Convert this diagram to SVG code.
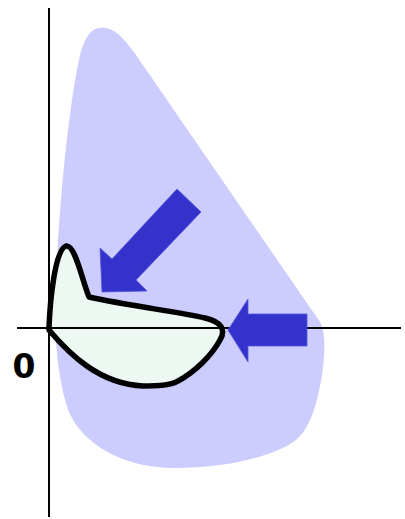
<svg xmlns="http://www.w3.org/2000/svg" width="405" height="519" viewBox="0 0 405 519">
<style>
.region{fill:#ccccff;stroke:none}
.set{fill:#eef8f3;stroke:#000;stroke-width:5.5;stroke-linejoin:round}
.axis{stroke:#000;stroke-width:2;fill:none}
.arrow{fill:#3333cc;stroke:#5555dd;stroke-width:0.8}
.lbl{font-family:"DejaVu Sans",sans-serif;font-weight:bold;font-size:33px;fill:#000}
</style>
<rect width="405" height="519" fill="#fff"/>
<g id="region">
<path class="region" d="M100,28 C113,26 123,37 136,55 L320,322 C326,332 325,355 322,375 C318,400 311,428 296,440 C272,458 222,468 175,468 C120,468 82,442 69,412 C58,382 55,340 55,310 C58,200 70,100 80,55 C85,36 92,28 100,28 Z"/>
</g>
<g id="set">
<path class="set" d="M49,328 C50,300 55,250 66,246 C75,244 82,280 89,297 C130,306 180,312 205,318 C222,322 226,330 220,340 C212,355 195,372 178,381 C170,386 155,386 143,386 C100,384 70,355 49,330 Z"/>
</g>
<g id="axes">
<line class="axis" x1="49" y1="8" x2="49" y2="517"/>
<line class="axis" x1="17" y1="328" x2="401" y2="328"/>
<text class="lbl" x="24" y="378" text-anchor="middle">0</text>
</g>
<g id="connectors">
<polygon class="arrow" points="177,189 201,212 136,280 147,291 102,292 100,248 112,259"/>
<polygon class="arrow" points="307,314 248,314 248,299 228,330 248,362 248,346 307,346"/>
</g>
</svg>
